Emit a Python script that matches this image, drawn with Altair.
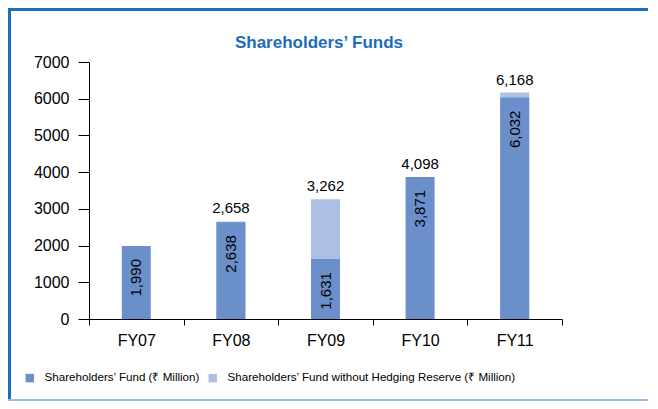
import altair as alt
import pandas as pd

years = ["FY07", "FY08", "FY09", "FY10", "FY11"]
fund = [1990, 2638, 1631, 3871, 6032]
fund_wo_hedge = [None, 2658, 3262, None, 6168]
total_labels = [None, 2658, 3262, 4098, 6168]

s_dark = "Shareholders’ Fund (₹ Million)"
s_light = "Shareholders’ Fund without Hedging Reserve (₹ Million)"
title_text = "Shareholders’ Funds"

dark_c = "#6b8fcb"
light_c = "#adc0e4"
blue = "#1b6cbb"
FONT = "Liberation Sans"

rows = []
for y, v in zip(years, fund):
    rows.append({"year": y, "series": s_dark, "value": v})
for y, v in zip(years, fund_wo_hedge):
    if v is not None:
        rows.append({"year": y, "series": s_light, "value": v})
df_bars = pd.DataFrame(rows)

lab = []
for y, f, w, t in zip(years, fund, fund_wo_hedge, total_labels):
    top = max(f, w) if w is not None else f
    lab.append({"year": y, "fund": f, "top": top, "total": t})
df_lab = pd.DataFrame(lab)

xenc = alt.X(
    "year:N",
    sort=years,
    scale=alt.Scale(paddingInner=0, paddingOuter=0),
    axis=alt.Axis(
        title=None, tickBand="extent", labelAngle=0, tickSize=6,
        labelFontSize=16, labelPadding=7, labelColor="black",
        domainColor="black", tickColor="black", labelFont=FONT,
    ),
)
yscale = alt.Scale(domain=[0, 7000], nice=False)
yaxis = alt.Axis(
    title=None, values=list(range(0, 7001, 1000)), format="d", grid=False,
    tickSize=11, labelPadding=9, labelFontSize=16, labelColor="black",
    domainColor="black", tickColor="black", labelFont=FONT, labelOverlap=False,
)


def Y(field):
    return alt.Y(field, type="quantitative", scale=yscale, axis=yaxis)


color = alt.Color(
    "series:N",
    scale=alt.Scale(domain=[s_dark, s_light], range=[dark_c, light_c]),
    legend=alt.Legend(
        title=None, orient="none", direction="horizontal",
        legendX=-65, legendY=310, symbolType="square", symbolSize=72,
        symbolStrokeWidth=0, labelFontSize=11.6, labelFont=FONT,
        labelColor="black", labelOffset=9, columnPadding=7, padding=0,
        labelLimit=500,
    ),
)

light = alt.Chart(df_bars[df_bars.series == s_light]).mark_bar(size=29).encode(
    x=xenc, y=Y("value"), color=color
)
dark = alt.Chart(df_bars[df_bars.series == s_dark]).mark_bar(size=29).encode(
    x=xenc, y=Y("value"), color=color
)
inner = alt.Chart(df_lab).mark_text(
    angle=270, align="right", baseline="middle", dx=-13, fontSize=15,
    font=FONT, color="black",
).encode(x=xenc, y=Y("fund"), text=alt.Text("fund:Q", format=",d"))
toplab = alt.Chart(df_lab.dropna(subset=["total"])).mark_text(
    baseline="bottom", dy=-5, fontSize=15, font=FONT, color="black"
).encode(x=xenc, y=Y("top"), text=alt.Text("total:Q", format=",d"))

one = alt.Data(values=[{"t": title_text}])
title = alt.Chart(one).mark_text(
    fontSize=17, font=FONT, fontWeight="bold", color=blue, baseline="alphabetic"
).encode(x=alt.value(230), y=alt.value(-14), text="t:N")
top_border = alt.Chart(one).mark_rule(color=blue, strokeWidth=3).encode(
    x=alt.value(-81), x2=alt.value(570), y=alt.value(-52.5)
)
left_border = alt.Chart(one).mark_rule(color=blue, strokeWidth=3).encode(
    x=alt.value(-79.5), y=alt.value(-54), y2=alt.value(339)
)
bottom_border = alt.Chart(one).mark_rule(color="#8fbfe8", strokeWidth=2).encode(
    x=alt.value(-81), x2=alt.value(570), y=alt.value(338)
)

chart = alt.layer(
    light, dark, inner, toplab, title, top_border, left_border, bottom_border
).properties(
    width=473,
    height=257,
    autosize=alt.AutoSizeParams(type="none"),
    padding={"left": 81, "top": 54, "right": 86, "bottom": 82},
).configure_view(stroke=None)

chart.save("out.html", embed_options={"renderer": "svg", "actions": False})
